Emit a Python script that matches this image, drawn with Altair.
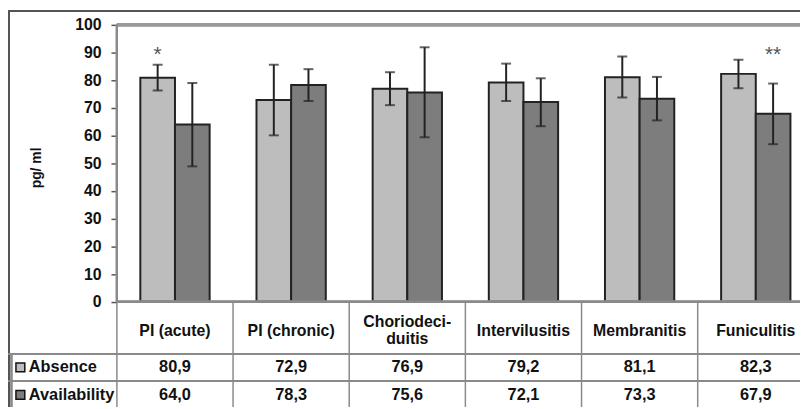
import altair as alt
import pandas as pd

categories = ["PI (acute)", "PI (chronic)", "Choriodeci-duitis", "Intervilusitis", "Membranitis", "Funiculitis"]
header_labels = ["PI (acute)", "PI (chronic)", "Choriodeci-\nduitis", "Intervilusitis", "Membranitis", "Funiculitis"]
series = ["Absence", "Availability"]
absence = [80.9, 72.9, 76.9, 79.2, 81.1, 82.3]
availability = [64.0, 78.3, 75.6, 72.1, 73.3, 67.9]
absence_lo = [76.3, 60.1, 71.0, 72.5, 73.8, 77.1]
absence_hi = [85.6, 85.6, 82.9, 86.0, 88.6, 87.4]
availability_lo = [48.9, 72.5, 59.4, 63.4, 65.5, 56.9]
availability_hi = [79.0, 84.0, 91.9, 80.7, 81.2, 78.8]
marks_cat = ["PI (acute)", "Funiculitis"]
marks_series = ["Absence", "Availability"]
marks_text = ["*", "**"]
colors = ["#bdbdbd", "#7d7d7d"]

def fmt(v):
    return f"{v:.1f}".replace(".", ",")

rows = []
for i, c in enumerate(categories):
    rows.append(dict(category=c, series="Absence", value=absence[i], lo=absence_lo[i], hi=absence_hi[i]))
    rows.append(dict(category=c, series="Availability", value=availability[i], lo=availability_lo[i], hi=availability_hi[i]))
df = pd.DataFrame(rows)

tab = pd.DataFrame(dict(category=categories, header=header_labels,
                        abs_txt=[fmt(v) for v in absence],
                        avl_txt=[fmt(v) for v in availability]))
stars = pd.DataFrame(dict(category=marks_cat, series=marks_series, label=marks_text))
legend_df = pd.DataFrame(dict(series=series, row=[-23.7, -33.6]))

FONT = "Liberation Sans"
xscale = alt.Scale(domain=categories, range=[0, 704], paddingInner=0, paddingOuter=0)
X = alt.X("category:N", scale=xscale, sort=categories, axis=None)
XO = alt.XOffset("series:N", scale=alt.Scale(domain=series, paddingOuter=0.676, paddingInner=0))
yscale = alt.Scale(domain=[-38, 100], nice=False, zero=False)
yaxis = alt.Axis(values=list(range(0, 101, 10)), title="pg/ ml", grid=False, domain=False,
                 labelFont=FONT, labelFontWeight="bold", labelFontSize=16, labelColor="#111",
                 labelOverlap=False, tickColor="#555", tickSize=6, tickWidth=1.5, labelPadding=10,
                 titleFont=FONT, titleFontWeight="bold", titleFontSize=14, titleColor="#111",
                 titleAngle=270, titleX=-81, titleY=144, titleBaseline="middle", titleAlign="center")
Y = alt.Y("value:Q", scale=yscale, axis=yaxis)
color = alt.Color("series:N", scale=alt.Scale(domain=series, range=colors), legend=None)

bars = alt.Chart(df).mark_bar(stroke="#222", strokeWidth=2).encode(x=X, xOffset=XO, y=Y, color=color)
err = alt.Chart(df).mark_rule(color="#222", strokeWidth=2).encode(x=X, xOffset=XO, y=alt.Y("lo:Q", axis=yaxis), y2="hi:Q")
cap_lo = alt.Chart(df).mark_tick(color="#222", size=10, thickness=2, orient="horizontal").encode(x=X, xOffset=XO, y=alt.Y("lo:Q", axis=yaxis))
cap_hi = alt.Chart(df).mark_tick(color="#222", size=10, thickness=2, orient="horizontal").encode(x=X, xOffset=XO, y=alt.Y("hi:Q", axis=yaxis))
star = alt.Chart(stars).mark_text(font=FONT, fontSize=21, color="#555", baseline="middle").encode(
    x=X, xOffset=XO, y=alt.datum(89.2, axis=yaxis), text="label:N")

GRID = "#8a8a8a"
def D(v):
    return alt.datum(v, axis=yaxis)

axis_line = alt.Chart(tab).mark_rule(color=GRID, strokeWidth=2).encode(x=alt.value(0), y=D(100), y2=alt.datum(0))
top_border = alt.Chart(tab).mark_rule(color="#9a9a9a", strokeWidth=3).encode(x=alt.value(0), x2=alt.value(704), y=D(100))
base_line = alt.Chart(tab).mark_rule(color=GRID, strokeWidth=2).encode(x=alt.value(0), x2=alt.value(704), y=D(0))
col_lines = alt.Chart(tab).mark_rule(color=GRID, strokeWidth=1.5).encode(
    x=alt.X("category:N", scale=xscale, sort=categories, axis=None, bandPosition=0),
    y=D(0), y2=alt.datum(-38))
row1 = alt.Chart(tab).mark_rule(color=GRID, strokeWidth=1.5).encode(x=alt.value(-110), x2=alt.value(704), y=D(-18.9))
row2 = alt.Chart(tab).mark_rule(color=GRID, strokeWidth=1.5).encode(x=alt.value(-110), x2=alt.value(704), y=D(-28.6))
outer_top = alt.Chart(tab).mark_rule(color="#555", strokeWidth=2).encode(x=alt.value(-110), x2=alt.value(704), y=alt.value(-14))
outer_left = alt.Chart(tab).mark_rule(color="#555", strokeWidth=2).encode(x=alt.value(-109), y=alt.value(-14), y2=alt.value(386))
inner_left = alt.Chart(tab).mark_rule(color=GRID, strokeWidth=1.5).encode(x=alt.value(-106.5), y=D(-18.9), y2=alt.datum(-38))

hdr = alt.Chart(tab).transform_calculate(
    hy="indexof(datum.header, '\\n') >= 0 ? -7.2 : -10.4"
).mark_text(font=FONT, fontWeight="bold", fontSize=16, color="#111", baseline="middle",
            lineBreak="\n", lineHeight=18).encode(x=X, y=alt.Y("hy:Q", scale=yscale, axis=yaxis), text="header:N")
r_abs = alt.Chart(tab).mark_text(font=FONT, fontWeight="bold", fontSize=16.5, color="#111", baseline="middle").encode(
    x=X, y=D(-23.7), text="abs_txt:N")
r_avl = alt.Chart(tab).mark_text(font=FONT, fontWeight="bold", fontSize=16.5, color="#111", baseline="middle").encode(
    x=X, y=D(-33.6), text="avl_txt:N")
leg_sq = alt.Chart(legend_df).mark_point(shape="square", size=80, filled=True, stroke="#111", strokeWidth=1.5, opacity=1).encode(
    x=alt.value(-97.5), y=alt.Y("row:Q", scale=yscale, axis=yaxis),
    fill=alt.Fill("series:N", scale=alt.Scale(domain=series, range=colors), legend=None))
leg_tx = alt.Chart(legend_df).mark_text(font=FONT, fontWeight="bold", fontSize=16.5, color="#111", align="left", baseline="middle").encode(
    x=alt.value(-89), y=alt.Y("row:Q", scale=yscale, axis=yaxis), text="series:N")

chart = alt.layer(
    bars, outer_top, outer_left, top_border, col_lines, row1, row2, inner_left,
    err, cap_lo, cap_hi, axis_line, base_line, star, hdr, r_abs, r_avl, leg_sq, leg_tx
).properties(
    width=690, height=386,
    padding={"left": 110, "top": 15, "right": 0, "bottom": 0},
    autosize=alt.AutoSizeParams(type="none"),
    background="white",
).configure_view(stroke=None)

chart.save("out.html", embed_options={"renderer": "svg", "actions": False})
